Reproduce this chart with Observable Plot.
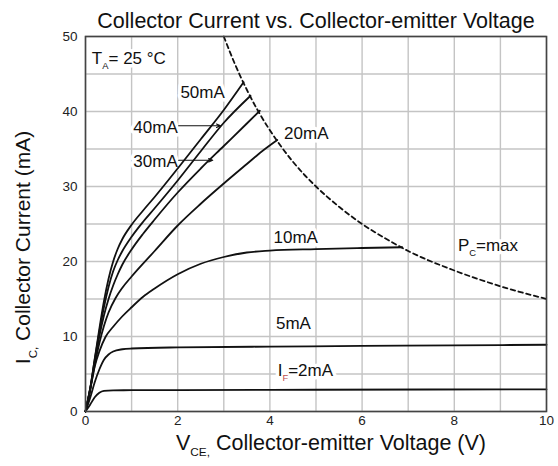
<!DOCTYPE html>
<html><head><meta charset="utf-8">
<script src="https://cdn.jsdelivr.net/npm/d3@7"></script>
<script src="https://cdn.jsdelivr.net/npm/@observablehq/plot@0.6"></script>
<style>
body{margin:0;background:#fff}
svg{font-family:"Liberation Sans",Arial,sans-serif}
</style>
</head><body><div id="chart"></div>
<script>
// ---- data (VCE in V, IC in mA) ----
const seriesNames = ["2mA","5mA","10mA","20mA","30mA","40mA","50mA"];
const curveIF2 = [[0,0],[0.1,0.9],[0.2,1.9],[0.3,2.5],[0.4,2.75],[0.6,2.82],[1,2.84],[2,2.86],[5,2.9],[10,2.96]];
const curveIF5 = [[0,0],[0.1,1.8],[0.2,3.9],[0.3,5.6],[0.4,6.9],[0.5,7.6],[0.6,8.0],[0.8,8.3],[1,8.4],[2,8.55],[4,8.65],[6,8.75],[8,8.82],[10,8.9]];
const curveIF10 = [[0,0],[0.1,3],[0.2,6],[0.3,8],[0.43,9.9],[0.6,11.3],[0.8,12.7],[1,13.9],[1.25,15.3],[1.5,16.4],[2,18.3],[2.5,19.7],[3,20.6],[3.5,21.2],[4,21.45],[5,21.65],[6,21.8],[6.87,21.9]];
const curveIF20 = [[0,0],[0.1,2.8],[0.2,6.2],[0.3,9.1],[0.4,11.4],[0.5,13.2],[0.65,15.1],[0.8,16.5],[1,18],[1.5,21.4],[2,24.8],[2.5,27.7],[3,30.4],[3.5,33],[3.83,34.7],[4.16,36.2]];
const curveIF30 = [[0,0],[0.1,2.9],[0.2,6.6],[0.3,10],[0.4,12.8],[0.5,15],[0.6,16.8],[0.7,18.3],[0.8,19.6],[1,21.6],[1.25,23.7],[1.5,25.6],[2,29.2],[2.5,32.4],[3,35.4],[3.5,38.4],[3.78,40.1]];
const curveIF40 = [[0,0],[0.1,3],[0.2,6.9],[0.3,10.6],[0.4,13.9],[0.5,16.6],[0.6,18.7],[0.7,20.2],[0.8,21.4],[1,23.3],[1.25,25.3],[1.5,27.1],[2,30.8],[2.5,34.7],[3,38.5],[3.58,42.1]];
const curveIF50 = [[0,0],[0.1,3],[0.2,7],[0.3,11],[0.4,14.7],[0.5,17.7],[0.6,20],[0.7,21.7],[0.8,23],[1,24.9],[1.25,26.8],[1.5,28.6],[2,32.4],[2.5,36.3],[3,40.2],[3.43,43.9]];
const pcMaxCurve = [[3,50],[3.25,46.2],[3.5,42.9],[3.75,40],[4,37.5],[4.5,33.3],[5,30],[5.5,27.3],[6,25],[6.5,23.1],[7,21.4],[8,18.8],[9,16.7],[10,15]];

const labelText = ["T_{A}= 25 °C","50mA","40mA","30mA","20mA","10mA","5mA","I_{F|#c0504d}=2mA","P_{C}=max"];
const labelX = [0.94,2.54,1.52,1.52,4.79,4.56,4.51,4.77,8.73];
const labelY = [47.1,42.5,37.9,33.3,37.0,23.2,11.7,5.5,22.1];

const arrowX1 = [2.02,2.02];
const arrowX2 = [2.93,2.76];
const arrowY = [38.1,33.5];

const xTicks = [0,2,4,6,8,10];
const yTicks = [0,10,20,30,40,50];
const xGrid = [0,1,2,3,4,5,6,7,8,9,10];
const yGrid = [0,5,10,15,20,25,30,35,40,45,50];

const titleText = "Collector Current vs. Collector-emitter Voltage";
const xLabelText = "V_{CE,} Collector-emitter Voltage (V)";
const yLabelText = "I_{C,} Collector Current (mA)";

// ---- tables built from the arrays ----
const allCurves = [curveIF2,curveIF5,curveIF10,curveIF20,curveIF30,curveIF40,curveIF50];
const curves = allCurves.flatMap((c,i) => c.map(([x,y]) => ({x, y, s: seriesNames[i]})));
const pc = pcMaxCurve.map(([x,y]) => ({x, y}));
const labels = labelText.map((t,i) => ({t, x: labelX[i], y: labelY[i]}));
const arrows = arrowY.map((y,i) => ({x1: arrowX1[i], x2: arrowX2[i], y}));

const ink = "#111";
const plot = Plot.plot({
  width: 558, height: 466,
  marginLeft: 85, marginRight: 12, marginTop: 36, marginBottom: 55,
  style: {fontFamily: '"Liberation Sans", Arial, sans-serif', fontSize: "13.5px", background: "#fff", color: "#222"},
  x: {domain: [0,10], ticks: xTicks, tickSize: 0, tickPadding: 4, label: null},
  y: {domain: [0,50], ticks: yTicks, tickSize: 0, tickPadding: 8, label: null},
  marks: [
    Plot.gridX(xGrid, {stroke: "#c4c4c4", strokeOpacity: 1, strokeWidth: 1.4}),
    Plot.gridY(yGrid, {stroke: "#c4c4c4", strokeOpacity: 1, strokeWidth: 1.4}),
    Plot.text(labels, {x: "x", y: "y", text: "t", fontSize: 17, fill: "white", stroke: "white", strokeWidth: 7}),
    Plot.line(curves, {x: "x", y: "y", z: "s", curve: "monotone-x", stroke: ink, strokeWidth: 1.8}),
    Plot.line(pc, {x: "x", y: "y", curve: "monotone-x", stroke: ink, strokeWidth: 1.8, strokeDasharray: "4.5,3.5"}),
    Plot.arrow(arrows, {x1: "x1", x2: "x2", y1: "y", y2: "y", stroke: ink, strokeWidth: 1.1, headLength: 6, headAngle: 45}),
    Plot.text(labels, {x: "x", y: "y", text: "t", fontSize: 17, fill: ink}),
    Plot.frame({stroke: "#444", strokeWidth: 1.6}),
    Plot.text([titleText], {frameAnchor: "top", lineAnchor: "middle", textAnchor: "middle", dy: -15, fontSize: 21.5, fill: ink}),
    Plot.text([xLabelText], {frameAnchor: "bottom", lineAnchor: "middle", textAnchor: "middle", dy: 31.6, dx: 15, fontSize: 21.5, fill: ink}),
    Plot.text([yLabelText], {frameAnchor: "left", lineAnchor: "middle", textAnchor: "middle", rotate: -90, dx: -62, dy: 23.5, fontSize: 21, fill: ink})
  ]
});
document.getElementById("chart").append(plot);

// rich text: _{sub} and ^{sup}, optional |color
function rich(el, s) {
  const fs = parseFloat(getComputedStyle(el).fontSize);
  const isHalo = getComputedStyle(el).fill === "rgb(255, 255, 255)";
  const parts = s.split(/(_\{[^}]*\}|\^\{[^}]*\})/).filter(Boolean);
  el.textContent = "";
  let shift = 0;
  for (const p of parts) {
    const m = p.match(/^([_^])\{([^}]*)\}$/);
    let target = 0, txt = p, color = null;
    if (m) {
      target = m[1] === "_" ? 0.3 * fs : -0.4 * fs;
      [txt, color] = m[2].split("|");
    }
    const t = document.createElementNS("http://www.w3.org/2000/svg", "tspan");
    if (target !== shift) t.setAttribute("dy", target - shift);
    shift = target;
    if (m) t.setAttribute("font-size", 0.55 * fs);
    if (color && !isHalo) t.setAttribute("fill", color);
    t.textContent = txt;
    el.appendChild(t);
  }
}
d3.select(plot).selectAll("text").each(function() {
  const s = this.textContent;
  if (/[_^]\{/.test(s)) rich(this, s);
});
</script>
</body></html>
